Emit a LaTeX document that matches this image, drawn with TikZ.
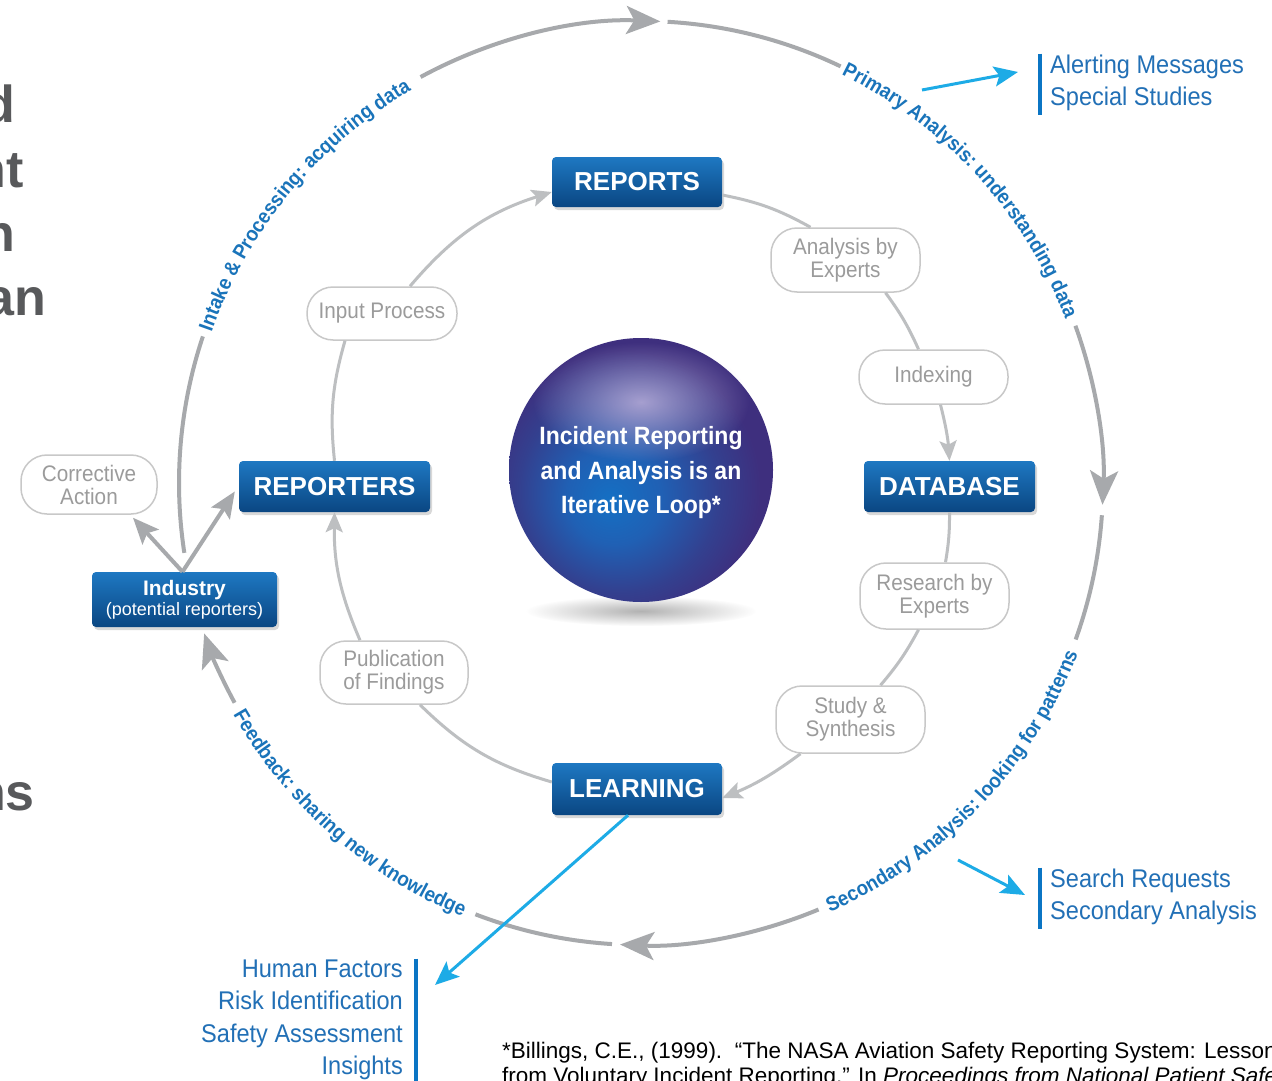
\documentclass[tikz,border=0pt]{standalone}
\usepackage{fontspec}
\setmainfont{Liberation Sans}
\newfontfamily\condfont[FakeStretch=0.92]{Liberation Sans}
\usetikzlibrary{arrows.meta,shadows,fadings,decorations.text}
\definecolor{outergray}{HTML}{A7A9AC}
\definecolor{innergray}{HTML}{BDBFC1}
\definecolor{boxtop}{HTML}{1E78C2}
\definecolor{boxbot}{HTML}{0A4682}
\definecolor{pillline}{HTML}{C8C8C8}
\definecolor{pilltext}{HTML}{9B9B9B}
\definecolor{arcblue}{HTML}{1A74BA}
\definecolor{cyanarr}{HTML}{1DABE6}
\definecolor{lblblue}{HTML}{2270B6}
\definecolor{barblue}{HTML}{0B75C4}
\definecolor{fraggray}{HTML}{58595B}
\definecolor{sphA}{HTML}{1470C4}
\definecolor{sphB}{HTML}{2060B4}
\definecolor{sphC}{HTML}{33408F}
\definecolor{sphD}{HTML}{3E2F7E}
\definecolor{sphHi}{HTML}{B3A9D6}
\newcommand\myfs[2]{\fontsize{#1pt}{#2pt}\selectfont}
\pgfdeclareradialshading{sphshade}{\pgfpoint{-6bp}{-6bp}}{color(0bp)=(sphA); color(9bp)=(sphB); color(19bp)=(sphC); color(26bp)=(sphD); color(60bp)=(sphD)}
\tikzfading[name=softfade, inner color=transparent!0, outer color=transparent!100]
\begin{document}
\begin{tikzpicture}[x=1pt,y=1pt,
  boxnode/.style={rectangle, rounded corners=4pt, top color=boxtop, bottom color=boxbot, text=white, font=\bfseries\myfs{26}{28}, inner sep=0pt, drop shadow={shadow xshift=2pt, shadow yshift=-3pt, opacity=0.3}},
  pill/.style={rectangle, draw=pillline, line width=1.5pt, rounded corners=26pt, fill=white, text=pilltext, font=\condfont\myfs{22.5}{23}, align=center, inner sep=0pt, minimum width=149pt},
  outerarc/.style={draw=outergray, line width=4pt},
  innerconn/.style={draw=innergray, line width=3pt},
  bigtip/.style={-{Stealth[length=34pt,width=28pt,inset=8pt]}},
  midtip/.style={-{Stealth[length=26pt,width=22pt,inset=5pt]}},
  smalltip/.style={-{Stealth[length=20pt,width=17pt,inset=4pt]}},
  bluearrow/.style={draw=cyanarr, line width=3pt, -{Stealth[length=24pt,width=20pt,inset=5pt]}},
  bluelbl/.style={text=lblblue, font=\condfont\myfs{25.6}{32.5}, inner sep=4pt},
  barline/.style={draw=barblue, line width=4pt},
  frag/.style={text=fraggray, font=\bfseries\myfs{52}{52}, inner sep=0pt},
  arclbl/.style={decorate, decoration={text along path, text align=center, text color=arcblue}}
]
\useasboundingbox (0,0) rectangle (1272,-1081);
\clip (0,0) rectangle (1272,-1081);
\fill[white] (0,0) rectangle (1272,-1081);

% left-edge fragments of slide text
\node[frag, anchor=base east] (fr1) at (15,-122) {d};
\node[frag, anchor=base east] (fr2) at (24,-187) {nt};
\node[frag, anchor=base east] (fr3) at (15,-251) {n};
\node[frag, anchor=base east] (fr4) at (46,-315) {an};
\node[frag, anchor=base east] (fr5) at (35,-810) {ns};

% outer loop
\begin{scope}[shift={(641,-483)}]
\draw[outerarc] (188.7:462) arc[start angle=188.7, end angle=161.5, radius=462];
\draw[outerarc, bigtip] (118.5:462) arc[start angle=118.5, end angle=87.6, radius=462];
\draw[outerarc] (86.7:462) arc[start angle=86.7, end angle=64.4, radius=462];
\draw[outerarc, bigtip] (19.9:462) arc[start angle=19.9, end angle=-2.7, radius=462];
\draw[outerarc] (-4:462) arc[start angle=-4, end angle=-19.8, radius=462];
\draw[outerarc, bigtip] (-67.4:462) arc[start angle=-67.4, end angle=-92.6, radius=462];
\draw[outerarc] (-93.6:462) arc[start angle=-93.6, end angle=-111, radius=462];
\draw[outerarc, bigtip] (-151.6:462) arc[start angle=-151.6, end angle=-161, radius=462];
\path[arclbl, decoration={text={|\condfont\bfseries\myfs{20.5}{20.5}|Intake {\&} Processing: acquiring data}}]
  (165:455) arc[start angle=165, end angle=116, radius=455];
\path[arclbl, decoration={text={|\condfont\bfseries\myfs{20.5}{20.5}|Primary Analysis: understanding data}}]
  (67:455) arc[start angle=67, end angle=18, radius=455];
\path[arclbl, decoration={text={|\condfont\bfseries\myfs{20.5}{20.5}|Secondary Analysis: looking for patterns}}]
  (-69:469) arc[start angle=-69, end angle=-18.6, radius=469];
\path[arclbl, decoration={text={|\condfont\bfseries\myfs{20.5}{20.5}|Feedback: sharing new knowledge}}]
  (-156:469) arc[start angle=-156, end angle=-106.8, radius=469];
\end{scope}

% central sphere
\fill[black!30, path fading=softfade] (641,-611) ellipse[x radius=115, y radius=15];
\shade[shading=sphshade] (641,-470) circle[radius=132];
\fill[sphHi, opacity=0.9, path fading=softfade] (641,-402) ellipse[x radius=108, y radius=60];
\node[text=white, align=center, font=\condfont\bfseries\myfs{25}{34.5}] (loop) at (641,-473) {Incident Reporting\\and Analysis is an\\Iterative Loop*};

% main boxes
\node[boxnode, minimum width=170pt, minimum height=50pt] (rep) at (637,-182) {REPORTS};
\node[boxnode, minimum width=191pt, minimum height=51pt] (rptr) at (334.5,-486.5) {REPORTERS};
\node[boxnode, minimum width=171pt, minimum height=51pt] (db) at (949.5,-486.5) {DATABASE};
\node[boxnode, minimum width=170pt, minimum height=52pt] (lrn) at (637,-789) {LEARNING};
\node[boxnode, minimum width=185pt, minimum height=55pt, align=center, font=\mdseries] (ind) at (184.5,-599.5)
  {{\bfseries\myfs{21}{22}Industry}\\[2pt]{\myfs{18}{20}(potential reporters)}};

% process pills
\node[pill, minimum width=150pt, minimum height=53pt] (ip) at (382,-313.5) {Input Process};
\node[pill, minimum height=64pt] (abe) at (845.5,-260) {Analysis by\\Experts};
\node[pill, minimum height=54pt] (idx) at (933.5,-377) {Indexing};
\node[pill, minimum height=66pt] (rbe) at (934.5,-596) {Research by\\Experts};
\node[pill, minimum height=67pt] (ss) at (850.5,-719.5) {Study \&\\Synthesis};
\node[pill, minimum width=148pt, minimum height=63pt] (pub) at (394,-672.5) {Publication\\of Findings};
\node[pill, minimum width=136pt, minimum height=59pt] (ca) at (89,-484.5) {Corrective\\Action};

% inner loop connectors
\draw[innerconn] (rptr.north) to[bend left=11] ([xshift=-37pt]ip.south);
\draw[innerconn, smalltip] ([xshift=28pt]ip.north) to[bend left=16] ([yshift=-10pt]rep.west);
\draw[innerconn] ([yshift=-13pt]rep.east) to[bend left=9] ([xshift=-35pt]abe.north);
\draw[innerconn] ([xshift=40pt]abe.south) to[bend left=6] ([xshift=-15pt]idx.north);
\draw[innerconn, smalltip] ([xshift=7pt]idx.south) to[bend left=5] (db.north);
\draw[innerconn] (db.south) to[bend left=5] ([xshift=11pt]rbe.north);
\draw[innerconn] ([xshift=-16pt]rbe.south) to[bend left=6] ([xshift=30pt]ss.north);
\draw[innerconn, smalltip] ([xshift=-50pt]ss.south) to[bend left=7] ([yshift=-9pt]lrn.east);
\draw[innerconn] ([yshift=7pt]lrn.west) to[bend left=14] ([xshift=26pt]pub.south);
\draw[innerconn, smalltip] ([xshift=-34pt]pub.north) to[bend left=12] (rptr.south);

% industry arrows
\draw[outerarc, midtip] ([xshift=-2pt]ind.north) -- ([xshift=44pt,yshift=-3pt]ca.south);
\draw[outerarc, midtip] ([xshift=-2pt]ind.north) -- ([xshift=-4pt,yshift=-5pt]rptr.west);

% blue output labels
\node[bluelbl, anchor=west, align=left] (alert) at (1046,-83) {Alerting Messages\\Special Studies};
\draw[barline] ([xshift=-6pt,yshift=-3pt]alert.north west) -- ([xshift=-6pt]alert.south west);
\node[bluelbl, anchor=west, align=left] (search) at (1046,-897) {Search Requests\\Secondary Analysis};
\draw[barline] ([xshift=-6pt,yshift=-3pt]search.north west) -- ([xshift=-6pt]search.south west);
\node[bluelbl, anchor=east, align=right] (hf) at (407,-1020) {Human Factors\\Risk Identification\\Safety Assessment\\Insights};
\draw[barline] ([xshift=9pt,yshift=-3pt]hf.north east) -- ([xshift=9pt]hf.south east);

\coordinate (pa1) at (922,-90);
\draw[bluearrow] (pa1) -- ([xshift=-28pt,yshift=11pt]alert.west);
\coordinate (sa1) at (958,-860);
\draw[bluearrow] (sa1) -- ([xshift=-21pt,yshift=2pt]search.west);
\draw[bluearrow] ([xshift=-9pt]lrn.south) -- ([xshift=28pt,yshift=35pt]hf.east);

% citation
\node[anchor=north west, inner sep=0pt, align=left, font=\myfs{22.5}{25}] (cite) at (502,-1042)
  {*Billings, C.E., (1999).\ \ “The NASA Aviation Safety Reporting System: Lessons\\from Voluntary Incident Reporting.” In \textit{Proceedings from National Patient Safety}};
\end{tikzpicture}
\end{document}
